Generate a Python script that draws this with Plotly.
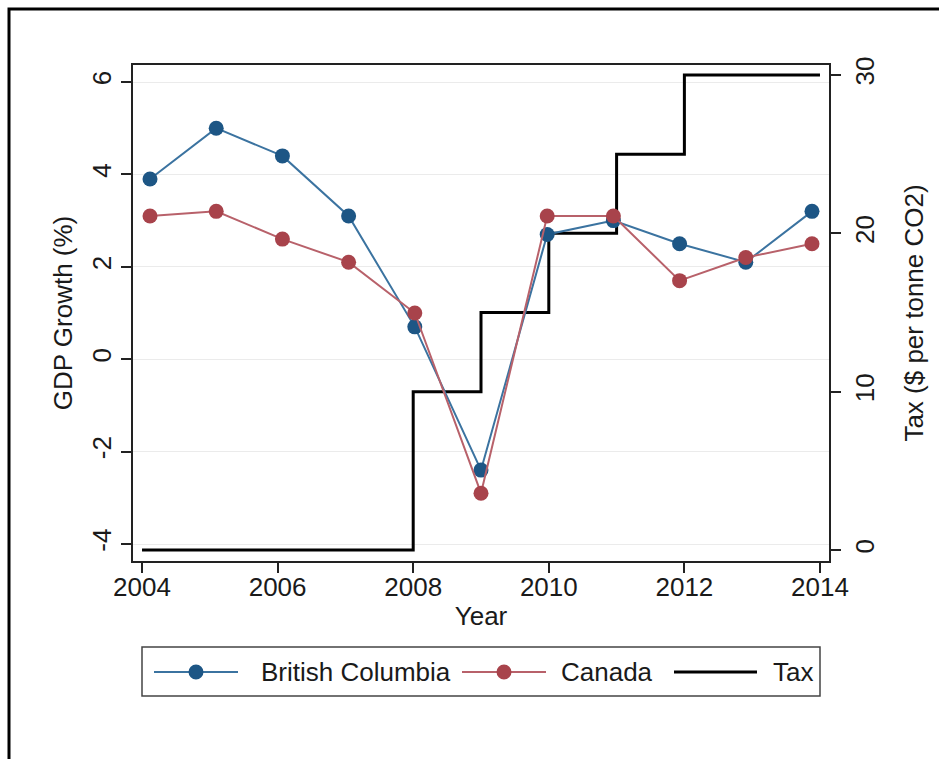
import plotly.graph_objects as go

# ---- data ----
years = [2004, 2005, 2006, 2007, 2008, 2009, 2010, 2011, 2012, 2013, 2014]
bc_growth = [3.9, 5.0, 4.4, 3.1, 0.7, -2.4, 2.7, 3.0, 2.5, 2.1, 3.2]
canada_growth = [3.1, 3.2, 2.6, 2.1, 1.0, -2.9, 3.1, 3.1, 1.7, 2.2, 2.5]
tax_years = [2004, 2005, 2006, 2007, 2008, 2009, 2010, 2011, 2012, 2013, 2014]
tax_values = [0, 0, 0, 0, 10, 15, 20, 25, 30, 30, 30]
x_ticks = [2004, 2006, 2008, 2010, 2012, 2014]
y_ticks = [-4, -2, 0, 2, 4, 6]
y_ticktext = ["-4", "-2", "0", "2", "4", "6"]
y2_ticks = [0, 10, 20, 30]
names = ["British Columbia", "Canada", "Tax"]

# ---- style ----
W, H = 939, 759
L, R, T, B = 133, 829, 65, 561
FONT = "Liberation Sans, Arial, Helvetica, sans-serif"
FS = 26
TXT = "#1a1a1a"
BC_MARK, BC_LINE = "#1d5685", "#3b73a0"
CA_MARK, CA_LINE = "#a8434b", "#b8616a"


def px(x):
    return (x - L) / (R - L)


def py(y):
    return (B - y) / (B - T)


fig = go.Figure()
# tax on main subplot (x = visible year axis, y = tax axis on the right)
fig.add_trace(go.Scatter(
    x=tax_years, y=tax_values, name=names[2], mode="lines",
    line=dict(color="black", width=3, shape="hv"),
    xaxis="x", yaxis="y", showlegend=False))
# GDP series on overlay subplot
fig.add_trace(go.Scatter(
    x=years, y=bc_growth, name=names[0], mode="lines+markers",
    line=dict(color=BC_LINE, width=2), marker=dict(color=BC_MARK, size=15),
    xaxis="x2", yaxis="y2", showlegend=False))
fig.add_trace(go.Scatter(
    x=years, y=canada_growth, name=names[1], mode="lines+markers",
    line=dict(color=CA_LINE, width=2), marker=dict(color=CA_MARK, size=15),
    xaxis="x2", yaxis="y2", showlegend=False))

axis_common = dict(
    ticks="outside", ticklen=10, tickwidth=1.5, tickcolor="#222",
    showline=True, linecolor="#222", linewidth=2,
    tickfont=dict(family=FONT, size=FS, color=TXT),
    zeroline=False,
)

shapes = []
annotations = []

# outer figure frame
shapes.append(dict(type="rect", xref="paper", yref="paper",
                   x0=px(9), x1=px(960), y0=py(780), y1=py(9),
                   line=dict(color="black", width=3), layer="above"))

# manual legend
shapes.append(dict(type="rect", xref="paper", yref="paper",
                   x0=px(142), x1=px(820), y0=py(696), y1=py(647),
                   line=dict(color="#444", width=1.5), fillcolor="white"))
ly = py(672)
legend_items = [
    (154, 238, 196, BC_LINE, BC_MARK, 2, 259, names[0]),
    (462, 546, 504, CA_LINE, CA_MARK, 2, 559, names[1]),
    (674, 757, None, "black", None, 3, 771, names[2]),
]
for x0, x1, mx, lc, mc, lw, tx, label in legend_items:
    shapes.append(dict(type="line", xref="paper", yref="paper",
                       x0=px(x0), x1=px(x1), y0=ly, y1=ly,
                       line=dict(color=lc, width=lw)))
    if mx is not None:
        shapes.append(dict(type="circle", xref="paper", yref="paper",
                           xsizemode="pixel", ysizemode="pixel",
                           xanchor=px(mx), yanchor=ly,
                           x0=-7.5, x1=7.5, y0=-7.5, y1=7.5,
                           fillcolor=mc, line=dict(color=mc, width=0)))
    annotations.append(dict(xref="paper", yref="paper", x=px(tx), y=ly,
                            xanchor="left", yanchor="middle", showarrow=False,
                            text=label, font=dict(family=FONT, size=FS, color=TXT)))

fig.update_layout(
    width=W, height=H,
    margin=dict(l=L, r=W - R, t=T, b=H - B),
    paper_bgcolor="white", plot_bgcolor="white",
    showlegend=False,
    font=dict(family=FONT, size=FS, color=TXT),
    xaxis=dict(range=[2003.867, 2014.133], tickvals=x_ticks, mirror=True,
               ticklabelstandoff=-8,
               title=dict(text="Year", font=dict(family=FONT, size=FS, color=TXT), standoff=6),
               showgrid=False, **axis_common),
    yaxis=dict(range=[-0.69, 30.63], tickvals=y2_ticks, tickangle=-90,
               side="right", showgrid=False, ticklabelstandoff=2,
               title=dict(text="Tax ($ per tonne CO2)", font=dict(family=FONT, size=FS, color=TXT),
                          standoff=26),
               **axis_common),
    xaxis2=dict(range=[2003.743, 2014.257], overlaying="x", visible=False),
    yaxis2=dict(range=[-4.368, 6.368], tickvals=y_ticks, ticktext=y_ticktext,
                tickangle=-90, overlaying="y", side="left",
                showgrid=True, gridcolor="#ebebeb", gridwidth=1,
                title=dict(text="GDP Growth (%)", font=dict(family=FONT, size=FS, color=TXT),
                           standoff=6),
                **axis_common),
    shapes=shapes,
    annotations=annotations,
)

fig.write_html("out.html")
